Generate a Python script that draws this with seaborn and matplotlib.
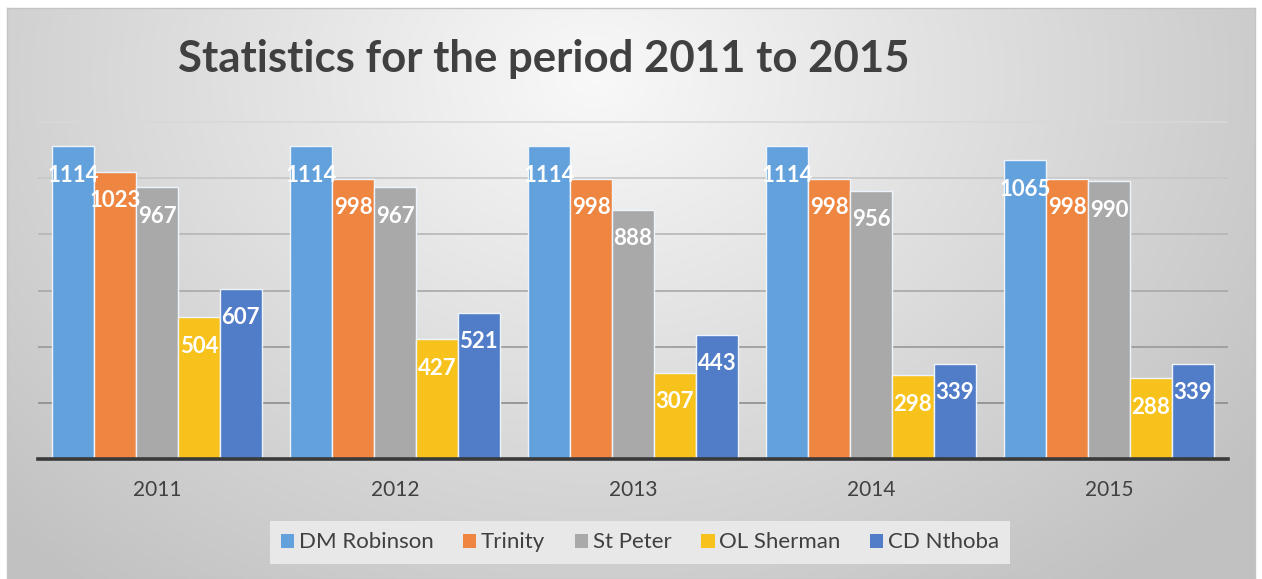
import numpy as np
import pandas as pd
import matplotlib
matplotlib.use('Agg')
import matplotlib.pyplot as plt
import seaborn as sns
from matplotlib.patches import Rectangle

years = ['2011', '2012', '2013', '2014', '2015']
schools = ['DM Robinson', 'Trinity', 'St Peter', 'OL Sherman', 'CD Nthoba']
dm_robinson = [1114, 1114, 1114, 1114, 1065]
trinity = [1023, 998, 998, 998, 998]
st_peter = [967, 967, 888, 956, 990]
ol_sherman = [504, 427, 307, 298, 288]
cd_nthoba = [607, 521, 443, 339, 339]
colors = ['#62A1DB', '#EE8540', '#A9A9A9', '#F8C21C', '#507CC8']
grid_ticks = [0, 200, 400, 600, 800, 1000, 1200]

sns.set_theme(style='white')
plt.rcParams['font.family'] = ['Lato', 'DejaVu Sans']

df = pd.DataFrame({
    'Year': years * 5,
    'School': [s for s in schools for _ in years],
    'Value': dm_robinson + trinity + st_peter + ol_sherman + cd_nthoba,
})

W, H = 1262, 579
fig = plt.figure(figsize=(W / 100, H / 100), dpi=100)
fig.patch.set_facecolor('white')

# background gradient panel
bg = fig.add_axes([7 / W, 0, 1248 / W, 571 / H])
gx, gy = np.meshgrid(np.linspace(0, 1, 400), np.linspace(0, 1, 200))
d = np.sqrt(((gx - 0.47) / 0.58) ** 2 + ((gy - 0.12) / 1.0) ** 2)
val = np.clip(0.975 - 0.19 * d, 0.76, 0.98)
bg.imshow(np.dstack([val, val, val]), extent=[0, 1, 0, 1], aspect='auto', origin='upper')
bg.set_xticks([]); bg.set_yticks([])
for s in bg.spines.values():
    s.set_color('#c4c4c4'); s.set_linewidth(1)

scale = (459 - 122) / 1200.0
ax = fig.add_axes([38 / W, 120 / H, 1190 / W, 1210 * scale / H])
ax.set_facecolor('none')
sns.barplot(data=df, x='Year', y='Value', hue='School', palette=colors,
            width=0.88, saturation=1, errorbar=None, edgecolor='#eef4fb',
            linewidth=1, ax=ax, legend=False, zorder=3)
ax.set_xlim(-0.5, 4.5)
ax.set_ylim(0, 1210)
ax.set_yticks(grid_ticks)
ax.set_yticklabels([])
ax.set_xlabel(''); ax.set_ylabel('')
ax.set_axisbelow(True)
ax.yaxis.grid(True, linewidth=1.2)
gcols = ['#8a8a8a', '#8c8c8c', '#999999', '#a8a8a8', '#b6b6b6', '#c6c6c6', '#d8d8d8']
for gl, c in zip(ax.get_ygridlines(), gcols):
    gl.set_color(c)
for s in ['top', 'left', 'right']:
    ax.spines[s].set_visible(False)
ax.spines['bottom'].set_color('#3a3a3a')
ax.spines['bottom'].set_linewidth(2.6)
ax.spines['bottom'].set_zorder(5)
ax.tick_params(axis='both', length=0)
ax.tick_params(axis='x', labelsize=15, labelcolor='#404040', pad=15)

for cont in ax.containers:
    texts = ax.bar_label(cont, padding=-21, color='white', fontweight='bold', fontsize=16)
    for t in texts:
        t.set_va('center')
        t.set_zorder(6)

handles = [Rectangle((0, 0), 1, 1, facecolor=c, edgecolor='none') for c in colors]
leg = fig.legend(handles, schools, loc='center', bbox_to_anchor=(640 / W, 1 - 542.5 / H),
                 ncol=5, frameon=True, facecolor='#e8e8e8', edgecolor='none', fancybox=False,
                 handlelength=0.59, handleheight=0.59, columnspacing=1.35, handletextpad=0.2,
                 fontsize=16, labelcolor='#404040', borderpad=0.5, framealpha=1)

fig.text(178 / W, 1 - 72 / H, 'Statistics for the period 2011 to 2015', fontsize=31.5,
         fontweight='bold', color='#404040', ha='left', va='baseline')

fig.savefig('out.png', dpi=100)
